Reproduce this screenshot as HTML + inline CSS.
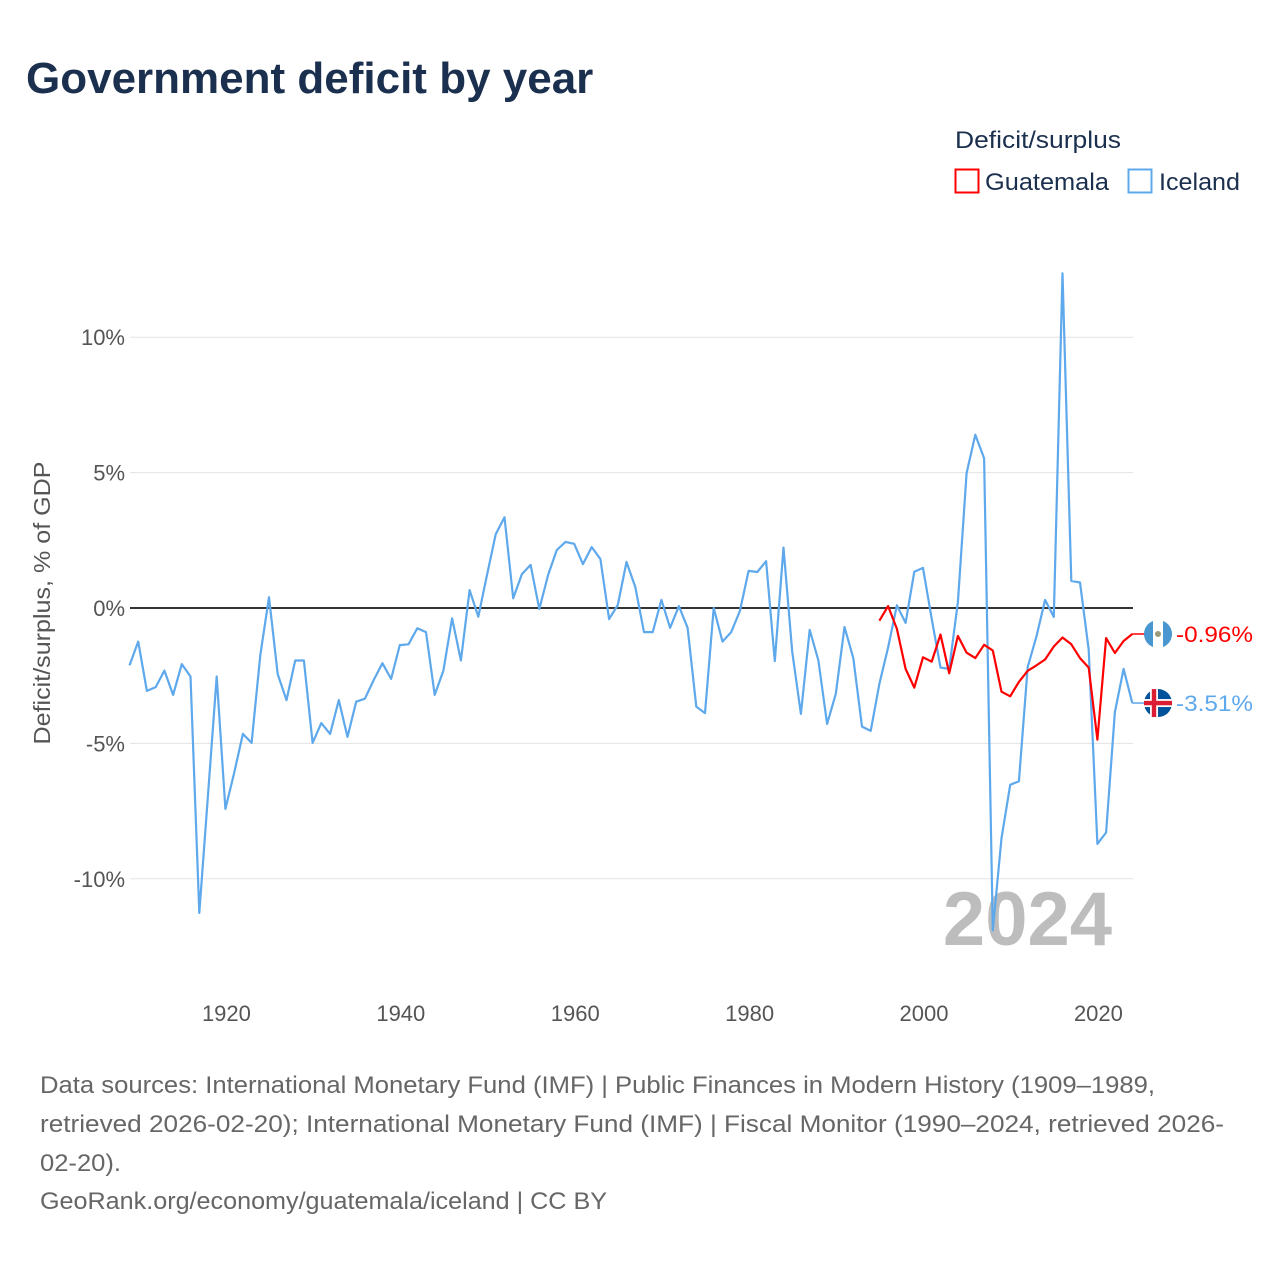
<!DOCTYPE html>
<html><head><meta charset="utf-8">
<style>
html,body{margin:0;padding:0;background:#fff;}
body{width:1280px;height:1280px;position:relative;overflow:hidden;font-family:"Liberation Sans",sans-serif;}
</style></head>
<body>
<svg id="chart" width="1280" height="1280" viewBox="0 0 1280 1280" xmlns="http://www.w3.org/2000/svg" style="position:absolute;left:0;top:0">
<text x="26" y="93" font-family="Liberation Sans, sans-serif" font-weight="bold" font-size="44" fill="#1b2f4e">Government deficit by year</text>
<text x="955" y="148" textLength="166" lengthAdjust="spacingAndGlyphs" font-family="Liberation Sans, sans-serif" font-size="24" fill="#1b2f4e">Deficit/surplus</text>
<g>
<rect x="955.5" y="169.5" width="23" height="23" fill="#fff" stroke="#ff0000" stroke-width="2"/>
<text x="985" y="190" textLength="124" lengthAdjust="spacingAndGlyphs" font-family="Liberation Sans, sans-serif" font-size="24" fill="#1b2f4e">Guatemala</text></g>
<g>
<rect x="1128.5" y="169.5" width="23" height="23" fill="#fff" stroke="#5ea8ec" stroke-width="2"/>
<text x="1159" y="190" textLength="81" lengthAdjust="spacingAndGlyphs" font-family="Liberation Sans, sans-serif" font-size="24" fill="#1b2f4e">Iceland</text></g>
<text transform="translate(50,603) rotate(-90)" text-anchor="middle" textLength="283" lengthAdjust="spacingAndGlyphs" font-family="Liberation Sans, sans-serif" font-size="23" fill="#555">Deficit/surplus, % of GDP</text>
<g id="grid"></g><g id="yticks"></g><g id="xticks"></g>
<text x="1112" y="945" text-anchor="end" font-family="Liberation Sans, sans-serif" font-weight="bold" font-size="76" fill="#bdbdbd">2024</text>
<g id="series"></g>
<g id="footer" font-family="Liberation Sans, sans-serif" font-size="24" fill="#666">
<text x="40" y="1093" textLength="1115" lengthAdjust="spacingAndGlyphs">Data sources: International Monetary Fund (IMF) | Public Finances in Modern History (1909–1989,</text>
<text x="40" y="1132" textLength="1184" lengthAdjust="spacingAndGlyphs">retrieved 2026-02-20); International Monetary Fund (IMF) | Fiscal Monitor (1990–2024, retrieved 2026-</text>
<text x="40" y="1171" textLength="81" lengthAdjust="spacingAndGlyphs">02-20).</text>
<text x="40" y="1209" textLength="567" lengthAdjust="spacingAndGlyphs">GeoRank.org/economy/guatemala/iceland | CC BY</text>
</g>
</svg>
<script>
const yTicks=[10,5,0,-5,-10];
const xTicks=[1920,1940,1960,1980,2000,2020];
const icelandStart=1909;
const icelandValues=[-2.12,-1.24,-3.06,-2.92,-2.31,-3.21,-2.07,-2.53,-11.26,-6.9,-2.53,-7.42,-6.1,-4.65,-4.98,-1.74,0.4,-2.44,-3.4,-1.94,-1.94,-4.98,-4.25,-4.65,-3.4,-4.76,-3.46,-3.35,-2.66,-2.04,-2.62,-1.37,-1.34,-0.75,-0.89,-3.21,-2.31,-0.38,-1.94,0.66,-0.32,1.22,2.72,3.35,0.36,1.25,1.59,-0.04,1.22,2.14,2.44,2.37,1.62,2.25,1.81,-0.41,0.11,1.7,0.77,-0.89,-0.89,0.3,-0.73,0.07,-0.73,-3.64,-3.88,0,-1.24,-0.89,-0.11,1.37,1.33,1.73,-1.96,2.23,-1.61,-3.91,-0.81,-1.94,-4.28,-3.17,-0.7,-1.85,-4.38,-4.54,-2.8,-1.46,0.1,-0.55,1.34,1.48,-0.4,-2.2,-2.25,0.22,4.98,6.4,5.53,-11.9,-8.5,-6.53,-6.4,-2.18,-1.06,0.3,-0.33,12.36,1.0,0.94,-1.54,-8.71,-8.29,-3.84,-2.25,-3.51];
const guatemalaStart=1995;
const guatemalaValues=[-0.47,0.07,-0.77,-2.25,-2.94,-1.82,-1.98,-0.98,-2.41,-1.03,-1.65,-1.85,-1.36,-1.57,-3.09,-3.26,-2.73,-2.32,-2.12,-1.9,-1.42,-1.09,-1.34,-1.85,-2.2,-4.86,-1.11,-1.66,-1.22,-0.96];
const NS='http://www.w3.org/2000/svg';
const X=y=>129.5+(y-1909)*8.72;
const Y=v=>608-v*27.08;
const L=130,R=1133;
function mk(tag,attrs,parent){const e=document.createElementNS(NS,tag);for(const k in attrs)e.setAttribute(k,attrs[k]);parent.appendChild(e);return e;}
const grid=document.getElementById('grid'),yt=document.getElementById('yticks'),xt=document.getElementById('xticks'),ser=document.getElementById('series');
yTicks.forEach(v=>{
  if(v!==0){const g=mk('line',{x1:L,x2:R,y1:Y(v),y2:Y(v),stroke:'#e3e3e3','stroke-width':1},grid);
  
  }
  const t=mk('text',{x:125,y:Y(v)+8,'text-anchor':'end','font-family':'Liberation Sans, sans-serif','font-size':22,fill:'#555'},yt);
  t.textContent=v+'%';
  
  
});
xTicks.forEach(yr=>{
  const t=mk('text',{x:X(yr)+1,y:1021,'text-anchor':'middle','font-family':'Liberation Sans, sans-serif','font-size':22,fill:'#555'},xt);
  t.textContent=yr;
  
  
});
const zl=mk('line',{x1:L,x2:R,y1:Y(0),y2:Y(0),stroke:'#333','stroke-width':2},grid);


function line(start,vals,color,name){
  const pts=vals.map((v,i)=>X(start+i).toFixed(1)+','+Y(v).toFixed(1)).join(' ');
  const p=mk('polyline',{points:pts,fill:'none',stroke:color,'stroke-width':2.2,'stroke-linejoin':'round'},ser);
  
  
  const last=vals[vals.length-1];
  return {x:X(start+vals.length-1),y:Y(last),v:last};
}
const ic=line(icelandStart,icelandValues,'#5ea8ec','iceland-line');
const gt=line(guatemalaStart,guatemalaValues,'#ff0000','guatemala-line');
function endLabel(p,color,name,flag){
  const c=mk('line',{x1:p.x,x2:1146,y1:p.y,y2:p.y,stroke:color,'stroke-width':1.5},ser);
  
  
  const g=mk('g',{},ser);
  
  
  if(flag==='gt'){
    mk('circle',{cx:1158,cy:p.y,r:14,fill:'#4997d0'},g);
    mk('rect',{x:1153,y:p.y-14,width:10,height:28,fill:'#fff'},g);
    mk('circle',{cx:1158,cy:p.y,r:3,fill:'#9a9a7a'},g);
  }else{
    mk('circle',{cx:1158,cy:p.y,r:14,fill:'#02529c'},g);
    mk('rect',{x:1144,y:p.y-4,width:28,height:8,fill:'#fff'},g);
    mk('rect',{x:1150,y:p.y-14,width:8,height:28,fill:'#fff'},g);
    mk('rect',{x:1144,y:p.y-2.2,width:28,height:4.4,fill:'#dc1e35'},g);
    mk('rect',{x:1151.8,y:p.y-14,width:4.4,height:28,fill:'#dc1e35'},g);
  }
  const t=mk('text',{x:1176,y:p.y+8,textLength:77,lengthAdjust:'spacingAndGlyphs','font-family':'Liberation Sans, sans-serif','font-size':22,fill:color},ser);
  t.textContent=p.v.toFixed(2)+'%';
  
  
}
endLabel(gt,'#ff0000','guatemala','gt');
endLabel(ic,'#5ea8ec','iceland','is');
</script>
</body></html>
